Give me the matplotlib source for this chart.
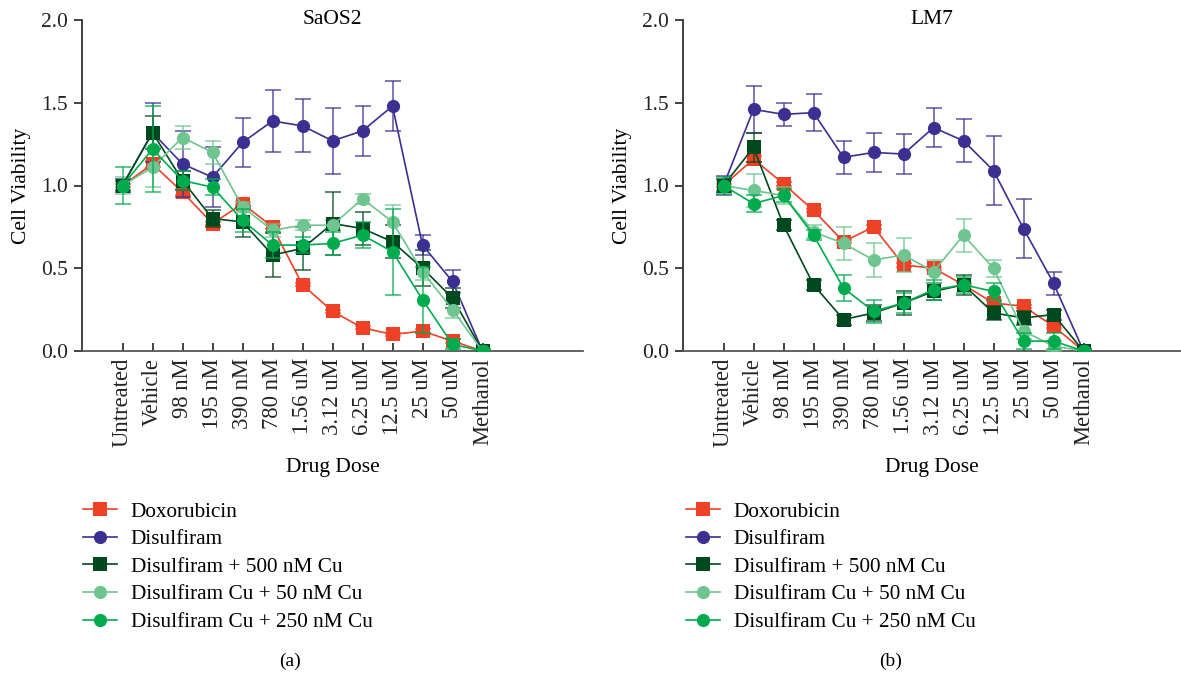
import numpy as np
import matplotlib
matplotlib.use("Agg")
from matplotlib import pyplot as plt

plt.rcParams['font.family'] = ['Liberation Serif', 'DejaVu Serif']
plt.rcParams['font.size'] = 15

### Data ###

doses = ["Untreated", "Vehicle", "98 nM", "195 nM", "390 nM", "780 nM", "1.56 uM",
         "3.12 uM", "6.25 uM", "12.5 uM", "25 uM", "50 uM", "Methanol"]

series_names = ["Doxorubicin", "Disulfiram", "Disulfiram + 500 nM Cu",
                "Disulfiram Cu + 50 nM Cu", "Disulfiram Cu + 250 nM Cu"]

# SaOS2
dox_saos2 = [1.00, 1.13, 0.96, 0.77, 0.89, 0.75, 0.40, 0.24, 0.14, 0.10, 0.12, 0.06, 0.00]
dox_saos2_err = [0.01, 0.02, 0.02, 0.01, 0.01, 0.01, 0.01, 0.01, 0.01, 0.01, 0.01, 0.01, 0.01]
dsf_saos2 = [1.00, 1.32, 1.13, 1.05, 1.26, 1.39, 1.36, 1.27, 1.33, 1.48, 0.64, 0.42, 0.00]
dsf_saos2_err = [0.04, 0.18, 0.20, 0.18, 0.15, 0.19, 0.16, 0.20, 0.15, 0.15, 0.06, 0.07, 0.01]
cu500_saos2 = [1.00, 1.32, 1.03, 0.80, 0.78, 0.58, 0.62, 0.77, 0.74, 0.66, 0.50, 0.32, 0.00]
cu500_saos2_err = [0.03, 0.10, 0.06, 0.05, 0.09, 0.13, 0.13, 0.19, 0.10, 0.10, 0.11, 0.06, 0.01]
cu50_saos2 = [1.00, 1.11, 1.29, 1.20, 0.87, 0.73, 0.76, 0.76, 0.92, 0.78, 0.48, 0.25, 0.00]
cu50_saos2_err = [0.05, 0.12, 0.07, 0.07, 0.03, 0.04, 0.03, 0.03, 0.03, 0.10, 0.05, 0.05, 0.01]
cu250_saos2 = [1.00, 1.22, 1.03, 0.99, 0.79, 0.64, 0.64, 0.65, 0.70, 0.60, 0.31, 0.04, 0.00]
cu250_saos2_err = [0.11, 0.26, 0.06, 0.05, 0.07, 0.08, 0.05, 0.07, 0.08, 0.26, 0.20, 0.03, 0.01]

# LM7
dox_lm7 = [1.00, 1.16, 1.01, 0.85, 0.66, 0.75, 0.52, 0.50, 0.40, 0.29, 0.27, 0.15, 0.00]
dox_lm7_err = [0.01, 0.02, 0.01, 0.01, 0.01, 0.01, 0.01, 0.01, 0.01, 0.01, 0.01, 0.01, 0.01]
dsf_lm7 = [1.00, 1.46, 1.43, 1.44, 1.17, 1.20, 1.19, 1.35, 1.27, 1.09, 0.74, 0.41, 0.00]
dsf_lm7_err = [0.06, 0.14, 0.07, 0.11, 0.10, 0.12, 0.12, 0.12, 0.13, 0.21, 0.18, 0.07, 0.01]
cu500_lm7 = [1.00, 1.23, 0.76, 0.40, 0.19, 0.23, 0.29, 0.36, 0.40, 0.23, 0.20, 0.22, 0.00]
cu500_lm7_err = [0.04, 0.09, 0.03, 0.03, 0.03, 0.05, 0.07, 0.05, 0.06, 0.04, 0.04, 0.03, 0.01]
cu50_lm7 = [1.00, 0.97, 0.94, 0.72, 0.65, 0.55, 0.58, 0.48, 0.70, 0.50, 0.12, 0.03, 0.00]
cu50_lm7_err = [0.03, 0.10, 0.05, 0.04, 0.10, 0.10, 0.10, 0.07, 0.10, 0.05, 0.05, 0.03, 0.01]
cu250_lm7 = [1.00, 0.89, 0.94, 0.70, 0.38, 0.24, 0.29, 0.37, 0.40, 0.36, 0.06, 0.06, 0.00]
cu250_lm7_err = [0.05, 0.05, 0.04, 0.03, 0.08, 0.07, 0.06, 0.06, 0.05, 0.05, 0.05, 0.05, 0.01]

colors = ["#EE4126", "#3B2F91", "#00481E", "#6FC58F", "#00AB4E"]
markers = ["s", "o", "s", "o", "o"]
# drawing order, back to front
draw_order = [3, 4, 0, 2, 1]

W, H = 1181, 676
fig = plt.figure(figsize=(W / 100, H / 100), dpi=100)


def make_panel(left_px, right_px, title, values, errors, caption, legend_x):
    ax = fig.add_axes([left_px / W, 1 - 351 / H, (right_px - left_px) / W, (351 - 20) / H])
    x = np.arange(len(doses))
    handles = {}
    for k in draw_order:
        eb = ax.errorbar(x, values[k], yerr=errors[k], color=colors[k], marker=markers[k],
                         markersize=9.5, linewidth=1.2, elinewidth=1.3, capsize=5.5,
                         capthick=1.3, zorder=3 + k * 0.1)
        eb[0].set_markeredgewidth(0)
        for bar in eb[2]:
            bar.set_alpha(0.7)
        for cap in eb[1]:
            cap.set_alpha(0.7)
        handles[k] = eb[0]

    ax.set_xlim(-40.5 / 30, (right_px - left_px - 40.5) / 30)
    ax.set_ylim(0, 2.0)
    ax.set_yticks([0.0, 0.5, 1.0, 1.5, 2.0])
    ax.set_yticklabels(["0.0", "0.5", "1.0", "1.5", "2.0"])
    ax.set_xticks(x)
    ax.set_xticklabels(doses, rotation=90)
    ax.tick_params(axis='y', direction='out', length=6, width=1.2, colors='#222222', labelsize=15.5, pad=4)
    ax.tick_params(axis='x', direction='in', length=6, width=1.2, colors='#222222', labelsize=16.3, pad=5)
    ax.spines['top'].set_visible(False)
    ax.spines['right'].set_visible(False)
    ax.spines['left'].set_color('#333333')
    ax.spines['bottom'].set_color('#555555')
    ax.spines['left'].set_linewidth(1.3)
    ax.spines['bottom'].set_linewidth(1.3)
    ax.set_ylabel("Cell Viability", fontsize=15.5, labelpad=7)
    ax.set_xlabel("Drug Dose", fontsize=15.5, labelpad=8)
    ax.text(0.5, 1.0, title, transform=ax.transAxes, ha='center', va='center', fontsize=15.5)
    for t in ax.get_xticklabels() + ax.get_yticklabels():
        t.set_color('#222222')

    fig.legend([handles[k] for k in range(5)], series_names, loc='upper left',
               bbox_to_anchor=(legend_x / W, 1 - 502 / H), frameon=False, fontsize=15.3,
               handlelength=1.6, handletextpad=0.65, labelspacing=0.36,
               borderpad=0, borderaxespad=0)
    fig.text((left_px + 208) / W, 1 - 661 / H, caption, ha='center', va='center', fontsize=14)
    return ax


make_panel(82, 583, "SaOS2",
           [dox_saos2, dsf_saos2, cu500_saos2, cu50_saos2, cu250_saos2],
           [dox_saos2_err, dsf_saos2_err, cu500_saos2_err, cu50_saos2_err, cu250_saos2_err],
           "(a)", 83)
make_panel(683, 1181, "LM7",
           [dox_lm7, dsf_lm7, cu500_lm7, cu50_lm7, cu250_lm7],
           [dox_lm7_err, dsf_lm7_err, cu500_lm7_err, cu50_lm7_err, cu250_lm7_err],
           "(b)", 686)

fig.savefig("out.png", dpi=100)
